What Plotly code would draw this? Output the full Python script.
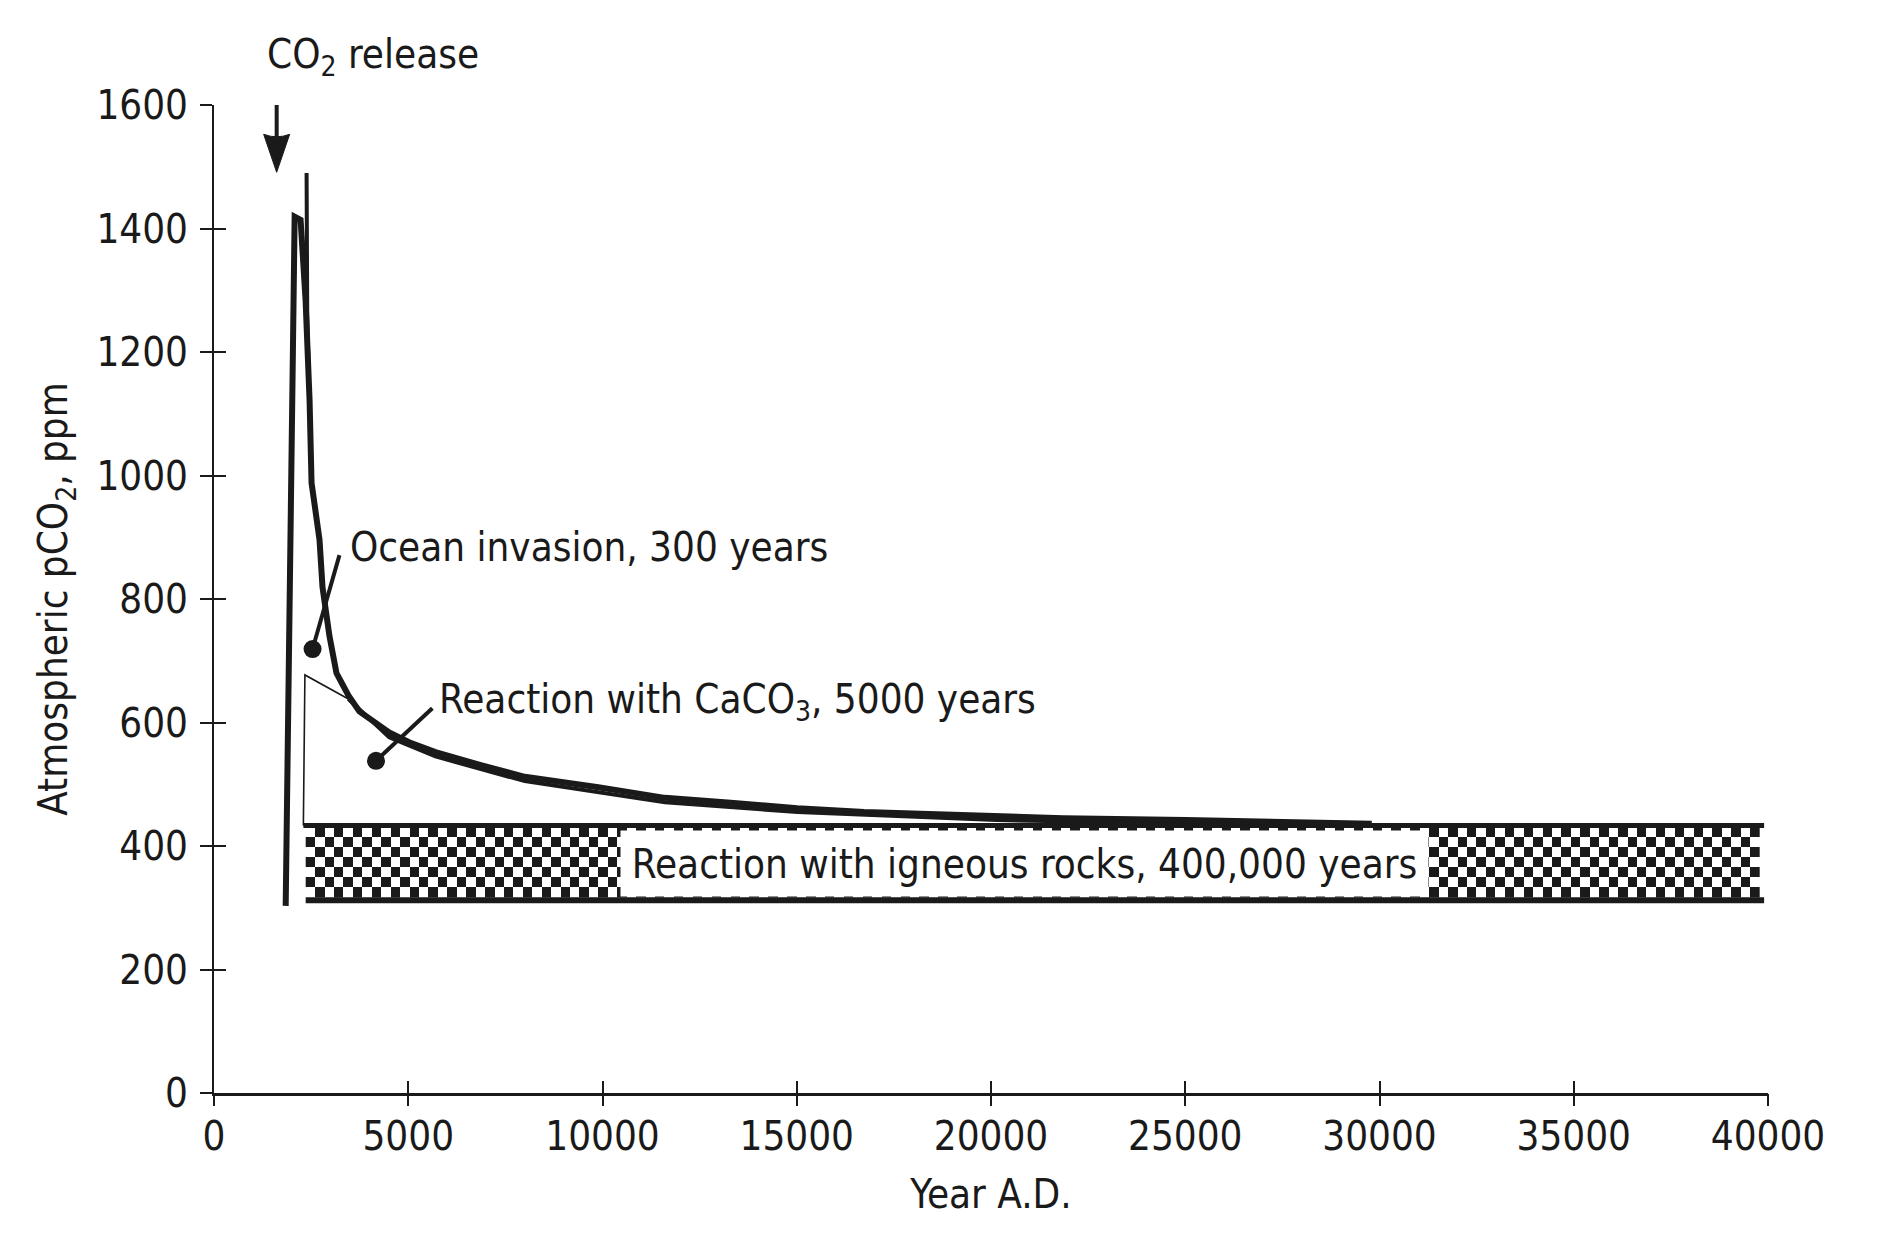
import numpy as np
import plotly.graph_objects as go

INK = "#1a1a1a"
FONT = "Liberation Sans Narrow, DejaVu Sans Condensed, Arial Narrow, sans-serif"

# ---- data ----
# main pCO2 trajectory (year A.D., ppm)
curve_year = [1845, 2076, 2229, 2357, 2460, 2511, 2716, 2793, 2972, 3152, 3306, 3460, 3741,
              4079, 4510, 5022, 5700, 6868, 8000, 9891, 11608, 13300, 15016, 16733, 18424,
              20140, 21860, 25010, 29800]
curve_ppm = [303, 1419, 1414, 1284, 1122, 988, 896, 819, 740, 680, 662, 644, 618,
             602, 584, 568, 552, 531, 512, 495, 478, 470, 461, 455, 452,
             447, 445, 442, 436]

# thin spike near the release
spike_year = [2383, 2400, 2460, 2511]
spike_ppm = [1490, 1260, 1110, 1000]

# CaCO3 reaction wedge (triangle + its lower trace along the curve)
wedge_year = [2300, 2300, 2340, 3460, 4510, 5700, 8000, 11608, 15016, 20140, 25010, 29800]
wedge_ppm = [433, 433, 677, 638, 576, 545, 505, 471, 455, 442, 437, 434]

# igneous-rock band
band_start, band_end = 2360, 39900
band_low, band_high = 312, 433
check_low, check_high = 316, 430

# annotation leader lines: (dot end, label end)
ocean_leader_year = [2537, 3229]
ocean_leader_ppm = [719, 871]
caco3_leader_year = [4170, 5620]
caco3_leader_ppm = [538, 623]

release_year, release_tip_ppm = 1613, 1491

x_ticks = [0, 5000, 10000, 15000, 20000, 25000, 30000, 35000, 40000]
y_ticks = [0, 200, 400, 600, 800, 1000, 1200, 1400, 1600]

fig = go.Figure()

# checkerboard texture for the band
n_rows = 7
col_w = 243.0
n_cols = int(round((band_end - band_start) / col_w))
dy = (check_high - check_low) / n_rows
ii, jj = np.indices((n_rows, n_cols))
z = ((ii + jj) % 2).astype(float)
fig.add_trace(go.Heatmap(
    z=z, x0=band_start + col_w / 2, dx=col_w, y0=check_low + dy / 2, dy=dy,
    colorscale=[[0, "white"], [1, INK]], showscale=False, zsmooth=False,
    hoverinfo="skip", zmin=0, zmax=1))

# band borders
fig.add_trace(go.Scatter(x=[wedge_year[0], band_end], y=[band_high, band_high], mode="lines",
                         line=dict(color=INK, width=5), hoverinfo="skip"))
fig.add_trace(go.Scatter(x=[band_start, band_end], y=[band_low, band_low], mode="lines",
                         line=dict(color=INK, width=6), hoverinfo="skip"))

# wedge (thin triangle edges then lower trace)
fig.add_trace(go.Scatter(x=wedge_year[:4], y=wedge_ppm[:4], mode="lines",
                         line=dict(color=INK, width=1.6), hoverinfo="skip"))
fig.add_trace(go.Scatter(x=wedge_year[3:], y=wedge_ppm[3:], mode="lines",
                         line=dict(color=INK, width=4), hoverinfo="skip"))

# main curve and spike
fig.add_trace(go.Scatter(x=curve_year, y=curve_ppm, mode="lines",
                         line=dict(color=INK, width=6), hoverinfo="skip"))
fig.add_trace(go.Scatter(x=spike_year, y=spike_ppm, mode="lines",
                         line=dict(color=INK, width=4), hoverinfo="skip"))

# leaders with dots
for lx, ly in [(ocean_leader_year, ocean_leader_ppm), (caco3_leader_year, caco3_leader_ppm)]:
    fig.add_trace(go.Scatter(x=lx, y=ly, mode="lines",
                             line=dict(color=INK, width=4), hoverinfo="skip"))
    fig.add_trace(go.Scatter(x=lx[:1], y=ly[:1], mode="markers",
                             marker=dict(color=INK, size=18, line=dict(width=0)),
                             hoverinfo="skip"))

# dummy trace for the overlay axes (other tick halves)
fig.add_trace(go.Scatter(x=[None], y=[None], xaxis="x2", yaxis="y2", showlegend=False))

tf = dict(family=FONT, size=40, color=INK)

fig.update_layout(
    width=1872, height=1240,
    margin=dict(l=206, r=112, t=97, b=155),
    paper_bgcolor="white", plot_bgcolor="white",
    showlegend=False,
    font=tf,
    xaxis=dict(range=[0, 40000], tickvals=x_ticks, ticktext=[str(v) for v in x_ticks],
               ticks="inside", ticklen=12, tickwidth=2, tickcolor=INK,
               showline=True, linecolor=INK, linewidth=3, showgrid=False, zeroline=False,
               tickfont=tf, ticklabelstandoff=6,
               title=dict(text="Year A.D.", font=tf, standoff=22)),
    yaxis=dict(range=[0, 1600], tickvals=y_ticks, ticktext=[str(v) for v in y_ticks],
               ticks="outside", ticklen=12, tickwidth=2, tickcolor=INK,
               showline=True, linecolor=INK, linewidth=2, showgrid=False, zeroline=False,
               tickfont=tf, ticklabelstandoff=4,
               title=dict(text="Atmospheric pCO<sub>2</sub>, ppm", font=tf, standoff=16)),
    xaxis2=dict(range=[0, 40000], overlaying="x", anchor="y2", tickvals=x_ticks,
                ticks="outside", ticklen=12, tickwidth=2, tickcolor=INK,
                showticklabels=False, showline=False, showgrid=False, zeroline=False),
    yaxis2=dict(range=[0, 1600], overlaying="y", anchor="x2", tickvals=y_ticks,
                ticks="inside", ticklen=12, tickwidth=2, tickcolor=INK,
                showticklabels=False, showline=False, showgrid=False, zeroline=False),
)

fig.add_annotation(x=release_year - 300, y=1.0486, xref="x", yref="paper",
                   xanchor="left", yanchor="middle", showarrow=False,
                   text="CO<sub>2</sub> release", font=tf)
fig.add_annotation(x=3450, y=884, xanchor="left", yanchor="middle", showarrow=False,
                   text="Ocean invasion, 300 years", font=tf)
fig.add_annotation(x=5750, y=634, xanchor="left", yanchor="middle", showarrow=False,
                   text="Reaction with CaCO<sub>3</sub>, 5000 years", font=tf)
fig.add_annotation(x=20850, y=372, xanchor="center", yanchor="middle", showarrow=False,
                   text="Reaction with igneous rocks, 400,000 years", font=tf,
                   bgcolor="white", borderpad=6, width=795, height=53)

# CO2 release arrow (pixel-sized, anchored at the tip)
fig.add_shape(type="line", xref="x", yref="y", xsizemode="pixel", ysizemode="pixel",
              xanchor=release_year, yanchor=release_tip_ppm,
              x0=0, x1=0, y0=30, y1=86, line=dict(color=INK, width=4))
fig.add_shape(type="path", xref="x", yref="y", xsizemode="pixel", ysizemode="pixel",
              xanchor=release_year, yanchor=release_tip_ppm,
              path="M0,0 L-13,38 Q0,33 13,38 Z", fillcolor=INK, line=dict(color=INK, width=1))

fig.write_html("out.html")
